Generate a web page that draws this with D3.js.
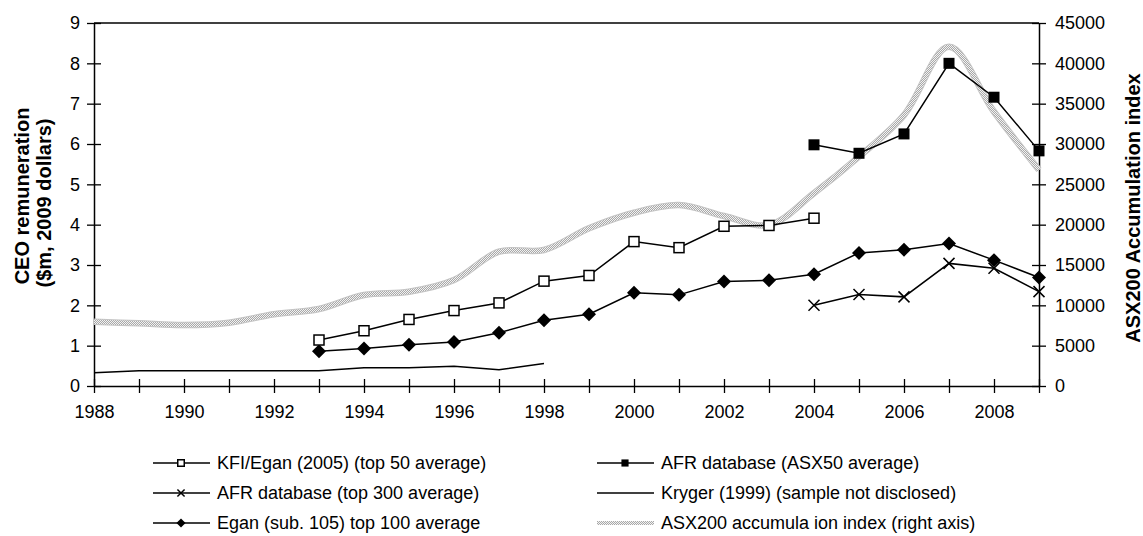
<!DOCTYPE html>
<html>
<head>
<meta charset="utf-8">
<script src="https://cdn.jsdelivr.net/npm/d3@7"></script>
<style>
  body { margin: 0; background: #fff; }
  svg { display: block; font-family: "Liberation Sans", Arial, sans-serif; }
</style>
</head>
<body>
<div id="chart"></div>
<script>
// years on the x axis
const years = d3.range(1988, 2010);

// CEO remuneration series ($m, 2009 dollars)
const kfiYears = d3.range(1993, 2005);
const kfiValues = [1.14, 1.37, 1.65, 1.87, 2.06, 2.60, 2.74, 3.58, 3.43, 3.96, 3.98, 4.16];

const asx50Years = d3.range(2004, 2010);
const asx50Values = [5.98, 5.77, 6.25, 8.0, 7.16, 5.83];

const top300Years = d3.range(2004, 2010);
const top300Values = [2.00, 2.27, 2.21, 3.04, 2.92, 2.34];

const krygerYears = d3.range(1988, 1999);
const krygerValues = [0.33, 0.38, 0.38, 0.38, 0.38, 0.38, 0.45, 0.45, 0.49, 0.40, 0.56];

const eganYears = d3.range(1993, 2010);
const eganValues = [0.86, 0.93, 1.02, 1.09, 1.32, 1.63, 1.78, 2.31, 2.26, 2.59, 2.62, 2.77, 3.30, 3.38, 3.53, 3.12, 2.69];

// ASX200 accumulation index (right axis)
const asxYears = d3.range(1988, 2010);
const asxValues = [7970, 7770, 7560, 7850, 8890, 9545, 11280, 11690, 13140, 16650, 16860, 19550, 21480, 22440, 21070, 19960, 23900, 28430, 33590, 42060, 34000, 26780];

const leftTicks = d3.range(0, 10);
const rightTicks = d3.range(0, 45001, 5000);
const xLabelYears = d3.range(1988, 2010, 2);

const legendLabels = [
  "KFI/Egan (2005) (top 50 average)",
  "AFR database (ASX50 average)",
  "AFR database (top 300 average)",
  "Kryger (1999) (sample not disclosed)",
  "Egan (sub. 105) top 100 average",
  "ASX200 accumula ion index (right axis)"
];

const W = 1143, H = 536;
const margin = {top: 23, right: 104, bottom: 150, left: 94};
const innerW = W - margin.left - margin.right;
const innerH = H - margin.top - margin.bottom;

const svg = d3.select("#chart").append("svg")
  .attr("width", W)
  .attr("height", H);

// dithered grey texture for the index line
const defs = svg.append("defs");
const pat = defs.append("pattern")
  .attr("id", "dots")
  .attr("patternUnits", "userSpaceOnUse")
  .attr("width", 2).attr("height", 2);
pat.append("rect").attr("width", 2).attr("height", 2).attr("fill", "#f2f2f2");
pat.append("rect").attr("width", 1).attr("height", 1).attr("fill", "#a8a8a8");
pat.append("rect").attr("x", 1).attr("y", 1).attr("width", 1).attr("height", 1).attr("fill", "#a8a8a8");

const x = d3.scaleLinear().domain([1988, 2009]).range([0, innerW]);
const yL = d3.scaleLinear().domain([0, 9]).range([innerH, 0]);
const yR = d3.scaleLinear().domain([0, 45000]).range([innerH, 0]);

const g = svg.append("g").attr("transform", `translate(${margin.left},${margin.top})`);

// top border line
g.append("line")
  .attr("x1", 0).attr("x2", innerW)
  .attr("y1", 0).attr("y2", 0)
  .attr("stroke", "#000").attr("stroke-width", 1.5);

// left axis
const leftAxis = g.append("g")
  .call(d3.axisLeft(yL).tickValues(leftTicks).tickSize(6).tickPadding(8).tickSizeOuter(0));
leftAxis.selectAll(".tick line").attr("x2", -7).attr("x1", 7);

// right axis
const rightAxis = g.append("g")
  .attr("transform", `translate(${innerW},0)`)
  .call(d3.axisRight(yR).tickValues(rightTicks).tickSize(6).tickPadding(10).tickFormat(d3.format("d")).tickSizeOuter(0));
rightAxis.selectAll(".tick line").attr("x1", -7).attr("x2", 7);

// bottom axis
const bottomAxis = g.append("g")
  .attr("transform", `translate(0,${innerH})`)
  .call(d3.axisBottom(x).tickValues(years).tickSize(7).tickPadding(12).tickSizeOuter(0)
    .tickFormat(d => xLabelYears.includes(d) ? d : ""));
bottomAxis.selectAll(".tick line").attr("y1", -7).attr("y2", 7);

[leftAxis, rightAxis, bottomAxis].forEach(a => {
  a.select(".domain").attr("stroke", "#000").attr("stroke-width", 1.5);
  a.selectAll(".tick line").attr("stroke", "#000").attr("stroke-width", 1.3);
  a.selectAll("text").attr("font-size", 18).attr("fill", "#000");
});

// axis titles
svg.append("text")
  .attr("transform", `translate(29,196) rotate(-90)`)
  .attr("text-anchor", "middle")
  .attr("font-size", 20).attr("font-weight", "bold")
  .text("CEO remuneration");
svg.append("text")
  .attr("transform", `translate(51,203) rotate(-90)`)
  .attr("text-anchor", "middle")
  .attr("font-size", 20).attr("font-weight", "bold")
  .text("($m, 2009 dollars)");
svg.append("text")
  .attr("transform", `translate(1140,208) rotate(-90)`)
  .attr("text-anchor", "middle")
  .attr("font-size", 20).attr("font-weight", "bold")
  .text("ASX200 Accumulation index");

// index line (right axis)
const asxLine = d3.line().curve(d3.curveCatmullRom)
  .x(d => x(d[0])).y(d => yR(d[1]));
const asxData = d3.zip(asxYears, asxValues);
g.append("path")
  .datum(asxData)
  .attr("d", asxLine)
  .attr("fill", "none")
  .attr("stroke", "#c4c4c4")
  .attr("stroke-width", 6.5);
g.append("path")
  .datum(asxData)
  .attr("d", asxLine)
  .attr("fill", "none")
  .attr("stroke", "url(#dots)")
  .attr("stroke-width", 4.5);

const lineL = d3.line().x(d => x(d[0])).y(d => yL(d[1]));

function series(xs, vs, marker) {
  const data = d3.zip(xs, vs);
  g.append("path")
    .datum(data)
    .attr("d", lineL)
    .attr("fill", "none")
    .attr("stroke", "#000")
    .attr("stroke-width", 1.5);
  if (marker) {
    g.selectAll(null)
      .data(data)
      .join("g")
      .attr("transform", d => `translate(${x(d[0])},${yL(d[1])})`)
      .each(function () { drawMarker(d3.select(this), marker, 1); });
  }
}

function drawMarker(sel, type, s) {
  if (type === "openSquare") {
    sel.append("rect").attr("x", -5 * s).attr("y", -5 * s).attr("width", 10 * s).attr("height", 10 * s)
      .attr("fill", "#fff").attr("stroke", "#000").attr("stroke-width", 1.5);
  } else if (type === "square") {
    sel.append("rect").attr("x", -5.5 * s).attr("y", -5.5 * s).attr("width", 11 * s).attr("height", 11 * s)
      .attr("fill", "#000");
  } else if (type === "diamond") {
    sel.append("path").attr("d", `M0,${-7 * s}L${7 * s},0L0,${7 * s}L${-7 * s},0Z`).attr("fill", "#000");
  } else if (type === "cross") {
    sel.append("path").attr("d", `M${-5.5 * s},${-5.5 * s}L${5.5 * s},${5.5 * s}M${-5.5 * s},${5.5 * s}L${5.5 * s},${-5.5 * s}`)
      .attr("stroke", "#000").attr("stroke-width", 1.5);
  }
}

series(krygerYears, krygerValues, null);
series(eganYears, eganValues, "diamond");
series(top300Years, top300Values, "cross");
series(kfiYears, kfiValues, "openSquare");
series(asx50Years, asx50Values, "square");

// legend
const legendMarkers = ["openSquare", "square", "cross", null, "diamond", "index"];
const legCols = [153, 597];
const legRows = [463, 493, 523];
legendLabels.forEach((label, i) => {
  const cx = legCols[i % 2], cy = legRows[Math.floor(i / 2)];
  const lg = svg.append("g").attr("transform", `translate(${cx},${cy})`);
  if (legendMarkers[i] === "index") {
    lg.append("line").attr("x1", 0).attr("x2", 57).attr("y1", 0).attr("y2", 0)
      .attr("stroke", "url(#dots)").attr("stroke-width", 4);
  } else {
    lg.append("line").attr("x1", 0).attr("x2", 57).attr("y1", 0).attr("y2", 0)
      .attr("stroke", "#000").attr("stroke-width", 1.5);
    if (legendMarkers[i]) {
      const m = lg.append("g").attr("transform", "translate(28,0)");
      drawMarker(m, legendMarkers[i], 0.65);
    }
  }
  lg.append("text")
    .attr("x", 64).attr("y", 0).attr("dy", "0.35em")
    .attr("font-size", 18)
    .text(label);
});
</script>
</body>
</html>
